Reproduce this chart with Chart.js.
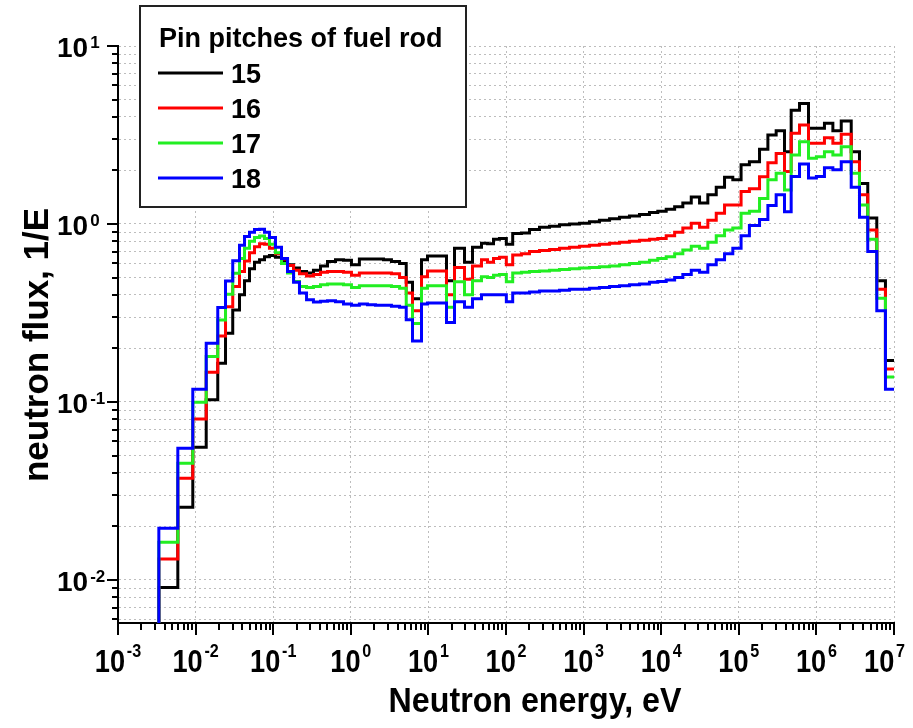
<!DOCTYPE html>
<html>
<head>
<meta charset="utf-8">
<script src="https://cdn.jsdelivr.net/npm/chart.js@4.4.1/dist/chart.umd.min.js"></script>
<style>
html,body{margin:0;padding:0;background:#fff}
canvas{display:block}
</style>
</head>
<body>
<canvas id="graph" width="913" height="728"></canvas>
<script>

// energy group boundaries, eV (first group starts below the plotted range)
let edges=[1e-4,3.36e-3,5.9e-3,9.2e-3,0.0137,0.0193,0.0243,0.0301,0.0368,0.0427,
0.0495,0.0574,0.0667,0.0773,0.0895,0.107,0.128,0.153,0.183,0.218,
0.269,0.330,0.407,0.501,0.635,0.805,1.02,1.29,1.64,2.08,
2.64,3.34,4.25,5.18,6.24,8.15,9.73,17.1,21.7,29.2,
37.0,48.3,57.8,69.0,82.4,101,122,158,201,270,
364,489,658,885,1190,1600,2160,2900,3900,5250,
7060,9040,1.16e4,1.49e4,1.90e4,2.44e4,3.12e4,3.99e4,5.12e4,6.55e4,
8.37e4,1.07e5,1.37e5,1.85e5,2.37e5,3.03e5,3.88e5,4.73e5,6.06e5,7.91e5,
1.0e6,1.27e6,1.63e6,2.09e6,2.81e6,3.59e6,4.59e6,6.0e6,7.76e6,1e7]

// group flux per pin pitch
let pitch15=[0.001,0.00906,0.0256,0.0557,0.103,0.165,0.243,0.329,
0.40,0.48,0.56,0.61,0.63,0.655,0.665,0.65,0.62,0.59,
0.565,0.54,0.53,0.55,0.58,0.615,0.63,0.625,0.59,0.635,
0.635,0.635,0.63,0.615,0.60,0.47,0.38,0.63,0.66,0.48,
0.73,0.61,0.74,0.78,0.775,0.82,0.83,0.77,0.885,0.89,
0.93,0.96,0.97,0.99,1.00,1.01,1.03,1.05,1.07,1.09,
1.11,1.13,1.16,1.18,1.21,1.25,1.31,1.42,1.31,1.46,
1.61,1.83,1.77,2.15,2.24,2.63,3.16,3.34,2.55,4.36,
4.76,3.45,3.45,3.68,3.34,3.79,2.55,1.69,1.08,0.48,
0.171]

let pitch16=[0.001,0.0131,0.0373,0.0802,0.147,0.235,0.343,0.445,
0.54,0.62,0.69,0.745,0.775,0.77,0.73,0.68,0.635,0.585,
0.55,0.525,0.51,0.52,0.535,0.54,0.54,0.535,0.515,0.53,
0.53,0.53,0.53,0.525,0.50,0.41,0.326,0.505,0.545,0.40,
0.57,0.49,0.58,0.63,0.61,0.64,0.65,0.59,0.67,0.68,
0.70,0.71,0.72,0.73,0.74,0.75,0.76,0.77,0.78,0.79,
0.80,0.81,0.82,0.83,0.86,0.90,0.95,1.01,0.96,1.05,
1.15,1.28,1.28,1.52,1.58,1.84,2.21,2.49,1.97,3.23,
3.60,2.84,2.84,3.05,2.84,3.19,2.24,1.46,0.925,0.43,
0.153]

let pitch17=[0.001,0.0163,0.0453,0.0995,0.180,0.289,0.403,0.528,
0.64,0.73,0.80,0.84,0.855,0.83,0.77,0.69,0.60,0.53,
0.475,0.445,0.44,0.445,0.455,0.46,0.46,0.455,0.44,0.45,
0.45,0.45,0.45,0.445,0.435,0.35,0.276,0.435,0.45,0.34,
0.474,0.40,0.48,0.505,0.50,0.515,0.52,0.474,0.53,0.535,
0.54,0.545,0.55,0.555,0.56,0.565,0.57,0.575,0.58,0.59,
0.60,0.61,0.625,0.64,0.655,0.68,0.715,0.75,0.73,0.79,
0.86,0.925,0.95,1.15,1.18,1.39,1.77,1.93,1.55,2.44,
2.90,2.34,2.39,2.55,2.44,2.72,1.93,1.28,0.82,0.383,
0.138]

let pitch18=[0.001,0.0195,0.0549,0.118,0.214,0.339,0.479,0.622,
0.76,0.85,0.90,0.93,0.935,0.90,0.84,0.74,0.64,0.54,
0.47,0.41,0.375,0.365,0.368,0.37,0.366,0.355,0.35,0.355,
0.352,0.35,0.35,0.345,0.34,0.29,0.22,0.355,0.36,0.28,
0.366,0.34,0.38,0.40,0.40,0.40,0.40,0.366,0.41,0.41,
0.415,0.42,0.42,0.425,0.43,0.43,0.435,0.44,0.445,0.45,
0.455,0.46,0.47,0.475,0.485,0.50,0.52,0.55,0.535,0.59,
0.63,0.68,0.73,0.86,0.98,1.06,1.27,1.46,1.17,1.85,
2.17,1.81,1.85,2.07,2.02,2.24,1.61,1.09,0.70,0.326,
0.118]

let pitches=["15","16","17","18"]
let colors=["#000000","#ff0000","#22ee22","#0000ff"]

// decade exponents for axis labels
let xDecades=[-3,-2,-1,0,1,2,3,4,5,6,7]
let yDecades=[-2,-1,0,1]

let FONT='"Liberation Sans", Arial, sans-serif'
let GRID="#bdbdbd"

// one point per group lower edge, last edge repeats last value
function steps(vals){
let pts=[]
for(let i=0;i<edges.length;i++){
pts.push({x:edges[i],y:vals[Math.min(i,vals.length-1)]})
}
return pts
}

function logTicks(decades){
let t=[]
for(let i=0;i<decades.length;i++){
let p=Math.pow(10,decades[i])
t.push({value:p,major:true})
if(i<decades.length-1){
for(let m=2;m<=9;m++)t.push({value:m*p,major:false})
}
}
return t
}

// "10" with a raised exponent
function power(ctx,e,x,y,o){
ctx.save()
ctx.translate(x,y)
ctx.scale(o.sx,1)
ctx.font="bold "+o.base+"px "+FONT
let w1=ctx.measureText("10").width
ctx.font="bold "+o.sup+"px "+FONT
let w2=ctx.measureText(String(e)).width
let tot=(w1+o.gap+w2)*o.sx
let x0=0
if(o.center){
x0=-tot/2
if(x+x0+tot>o.maxRight)x0=o.maxRight-x-tot
x0=x0/o.sx
}
ctx.fillStyle="#000"
ctx.textBaseline="alphabetic"
ctx.textAlign="left"
ctx.font="bold "+o.base+"px "+FONT
ctx.fillText("10",x0,0)
ctx.font="bold "+o.sup+"px "+FONT
ctx.fillText(String(e),x0+w1+o.gap,-o.rise)
ctx.restore()
}

let frame={
id:"frame",
afterDraw(chart){
let ctx=chart.ctx
let a=chart.chartArea
let xs=chart.scales.x
let ys=chart.scales.y

// tick marks
ctx.save()
ctx.strokeStyle="#000"
ctx.lineWidth=2
ctx.beginPath()
xs.ticks.forEach(t=>{
let px=Math.round(xs.getPixelForValue(t.value))
ctx.moveTo(px,a.bottom)
ctx.lineTo(px,a.bottom+(t.major?12:7))
})
ys.ticks.forEach(t=>{
let py=Math.round(ys.getPixelForValue(t.value))
ctx.moveTo(a.left,py)
ctx.lineTo(a.left-(t.major?11:6),py)
})
ctx.stroke()
ctx.restore()

// tick labels
xDecades.forEach(d=>{
let px=xs.getPixelForValue(Math.pow(10,d))
power(ctx,d,px,672,{base:32,sup:19,rise:15,gap:2,sx:0.85,center:true,maxRight:905})
})
yDecades.forEach(d=>{
let py=ys.getPixelForValue(Math.pow(10,d))
power(ctx,d,57,py+11,{base:28,sup:17,rise:9,gap:2,sx:1,center:false})
})

// axis titles
ctx.save()
ctx.fillStyle="#000"
ctx.textAlign="center"
ctx.textBaseline="alphabetic"
ctx.font="bold 35px "+FONT
ctx.translate(535,712)
ctx.scale(0.92,1)
ctx.fillText("Neutron energy, eV",0,0)
ctx.restore()

ctx.save()
ctx.fillStyle="#000"
ctx.textAlign="center"
ctx.textBaseline="alphabetic"
ctx.font="bold 35px "+FONT
ctx.translate(48,345)
ctx.rotate(-Math.PI/2)
ctx.fillText("neutron flux, 1/E",0,0)
ctx.restore()

// legend box
ctx.save()
ctx.fillStyle="#fff"
ctx.fillRect(140,6,326,201)
ctx.strokeStyle="#222"
ctx.lineWidth=2
ctx.strokeRect(140,6,326,201)
ctx.fillStyle="#000"
ctx.textAlign="left"
ctx.textBaseline="alphabetic"
ctx.font="bold 27px "+FONT
ctx.fillText("Pin pitches of fuel rod",159,47)
chart.data.datasets.forEach((ds,i)=>{
let y=73+i*35
ctx.strokeStyle=ds.borderColor
ctx.lineWidth=3
ctx.beginPath()
ctx.moveTo(158,y)
ctx.lineTo(223,y)
ctx.stroke()
ctx.fillStyle="#000"
ctx.fillText(ds.label,231,y+10)
})
ctx.restore()
}
}

let ctx=document.getElementById("graph").getContext("2d")

let chart=new Chart(ctx,{
type:"line",
data:{
datasets:pitches.map((p,i)=>({
label:p,
data:steps([pitch15,pitch16,pitch17,pitch18][i]),
borderColor:colors[i],
backgroundColor:colors[i],
borderWidth:3,
pointRadius:0,
stepped:"before",
fill:false,
borderJoinStyle:"miter",
borderCapStyle:"butt",
order:4-i
}))
},
options:{
responsive:false,
animation:false,
layout:{padding:{left:0,right:19,top:46,bottom:0}},
plugins:{legend:{display:false},tooltip:{enabled:false}},
scales:{
x:{
type:"logarithmic",
min:1e-3,
max:1e7,
afterBuildTicks:s=>{s.ticks=logTicks(xDecades)},
afterFit:s=>{s.height=105},
ticks:{display:false},
grid:{drawTicks:false,lineWidth:1,color:c=>(c.tick&&c.tick.major)?GRID:"rgba(0,0,0,0)"},
border:{color:"#000",width:2,dash:[2,3]}
},
y:{
type:"logarithmic",
min:5.73e-3,
max:10,
afterBuildTicks:s=>{s.ticks=logTicks(yDecades).concat([6e-3,7e-3,8e-3,9e-3].map(v=>({value:v,major:false})))},
afterFit:s=>{s.width=118},
ticks:{display:false},
grid:{drawTicks:false,lineWidth:1,color:GRID},
border:{color:"#000",width:2,dash:[2,3]}
}
}
},
plugins:[frame]
})

</script>
</body>
</html>
